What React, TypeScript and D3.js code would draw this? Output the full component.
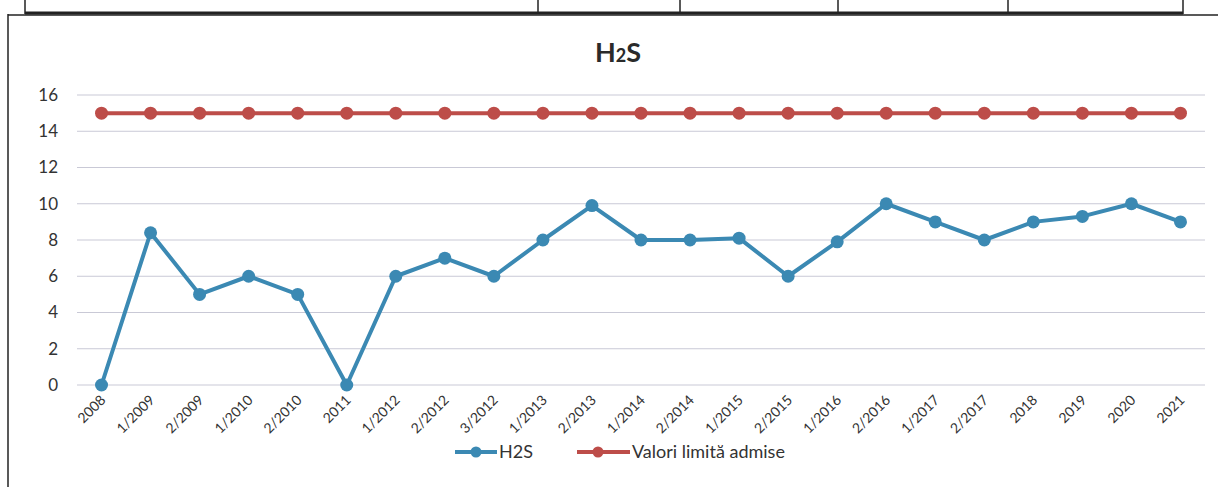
import React from "react";
import * as d3 from "d3";

const categories = ["2008","1/2009","2/2009","1/2010","2/2010","2011","1/2012","2/2012","3/2012","1/2013","2/2013","1/2014","2/2014","1/2015","2/2015","1/2016","2/2016","1/2017","2/2017","2018","2019","2020","2021"];
const h2sValues = [0,8.4,5,6,5,0,6,7,6,8,9.9,8,8,8.1,6,7.9,10,9,8,9,9.3,10,9];
const limitValues = [15,15,15,15,15,15,15,15,15,15,15,15,15,15,15,15,15,15,15,15,15,15,15];
const yTicks = [0,2,4,6,8,10,12,14,16];
const seriesNames = ["H2S", "Valori limită admise"];
const tableEdges = [25, 538, 680, 838, 1008, 1183];

const W = 1218, H = 487;
const BLUE = "#3b89b3";
const RED = "#bd4d49";
const FONT = "Lato, 'Open Sans', sans-serif";

export default function App() {
  const x = d3.scaleBand<string>().domain(categories).range([77, 1205]);
  const y = d3.scaleLinear().domain([0, 16]).range([385, 95]);
  const cx = (c: string) => (x(c) as number) + x.bandwidth() / 2;
  const line = d3.line<number>().x((_, i) => cx(categories[i])).y((d) => y(d));

  return (
    <svg width={W} height={H} style={{ position: "absolute", left: 0, top: 0, background: "#fff" }}>
      {/* table fragment at top */}
      <g>
        {tableEdges.map((e, i) => (
          <line key={i} x1={e} x2={e} y1={0} y2={14} stroke="#222" strokeWidth={1.5} />
        ))}
        <line x1={25} x2={1183} y1={13} y2={13} stroke="#222" strokeWidth={3} />
      </g>
      {/* chart border */}
      <line x1={8} x2={1218} y1={15} y2={15} stroke="#222" strokeWidth={1.5} />
      <line x1={8} x2={8} y1={14} y2={487} stroke="#222" strokeWidth={1.5} />

      {/* title */}
      <text x={618} y={62} textAnchor="middle" fontFamily={FONT} fontWeight="bold" fontSize={27} fill="#2a2a2a">
        H<tspan fontSize={18}>2</tspan>S
      </text>

      {/* gridlines + y labels */}
      {yTicks.map((t) => (
        <g key={t}>
          <line x1={77} x2={1205} y1={y(t)} y2={y(t)} stroke="#c9c9d6" strokeWidth={1} />
          <text x={58} y={y(t)} dy="0.35em" textAnchor="end" fontFamily={FONT} fontSize={17} fill="#333">{t}</text>
        </g>
      ))}

      {/* x labels */}
      {categories.map((c) => (
        <text key={c} transform={`translate(${cx(c) + 5},${401}) rotate(-45)`} textAnchor="end" fontFamily={FONT} fontSize={14} fill="#333">{c}</text>
      ))}

      {/* series */}
      <path d={line(limitValues) || ""} fill="none" stroke={RED} strokeWidth={4} />
      {limitValues.map((v, i) => (
        <circle key={i} cx={cx(categories[i])} cy={y(v)} r={6.5} fill={RED} />
      ))}
      <path d={line(h2sValues) || ""} fill="none" stroke={BLUE} strokeWidth={4} strokeLinejoin="round" />
      {h2sValues.map((v, i) => (
        <circle key={i} cx={cx(categories[i])} cy={y(v)} r={6.5} fill={BLUE} />
      ))}

      {/* legend */}
      <g>
        <line x1={455} x2={497} y1={452} y2={452} stroke={BLUE} strokeWidth={4} />
        <circle cx={476} cy={452} r={5.5} fill={BLUE} />
        <text x={499} y={452} dy="0.35em" fontFamily={FONT} fontSize={18} fill="#333">{seriesNames[0]}</text>
        <line x1={577} x2={630} y1={452} y2={452} stroke={RED} strokeWidth={4} />
        <circle cx={598} cy={452} r={5.5} fill={RED} />
        <text x={632} y={452} dy="0.35em" fontFamily={FONT} fontSize={18} fill="#333">{seriesNames[1]}</text>
      </g>
    </svg>
  );
}
